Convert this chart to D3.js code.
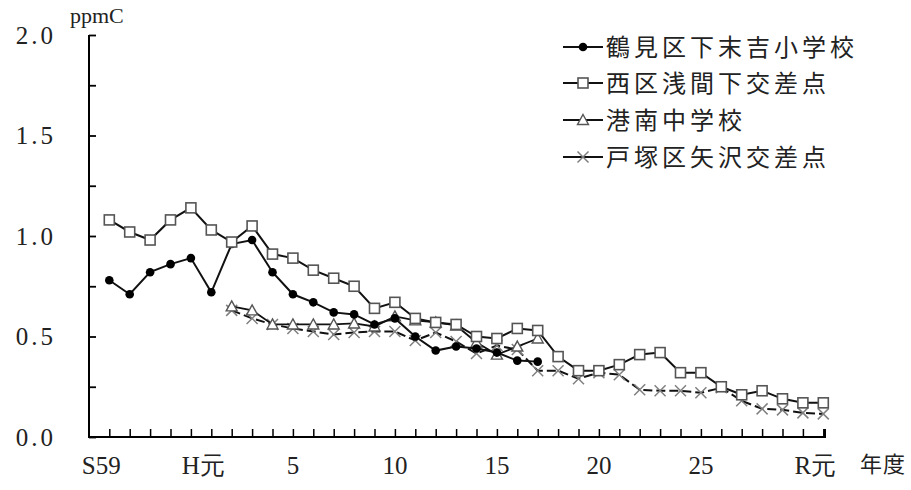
<!DOCTYPE html>
<html><head><meta charset="utf-8">
<script src="https://cdn.jsdelivr.net/npm/d3@7"></script>
<style>
html,body{margin:0;padding:0;background:#fff;}
svg{display:block;}
.lab{font-family:"Liberation Serif","DejaVu Serif",serif;fill:#222;}
.cjk{font-family:"Noto Sans CJK JP","Noto Sans CJK SC",sans-serif;fill:#222;}
</style></head>
<body>
<svg id="chart" width="911" height="490"></svg>
<script>
// ---- data ----
const seriesNames = ["鶴見区下末吉小学校","西区浅間下交差点","港南中学校","戸塚区矢沢交差点"];
const tsurumiStart = 1984;
const tsurumi = [0.78,0.71,0.82,0.86,0.89,0.72,0.96,0.98,0.82,0.71,0.67,0.62,0.61,0.56,0.59,0.50,0.43,0.45,0.44,0.42,0.38,0.375];
const nishiStart = 1984;
const nishi = [1.08,1.02,0.98,1.08,1.14,1.03,0.97,1.05,0.91,0.89,0.83,0.79,0.75,0.64,0.67,0.59,0.57,0.56,0.50,0.49,0.54,0.53,0.40,0.33,0.33,0.36,0.41,0.42,0.32,0.32,0.25,0.21,0.23,0.19,0.17,0.17];
const konanStart = 1990;
const konan = [0.65,0.63,0.56,0.56,0.56,0.56,0.565,0.55,0.60,0.58,0.57,0.555,0.47,0.41,0.45,0.49];
const totsukaStart = 1990;
const totsuka = [0.63,0.59,0.56,0.54,0.525,0.51,0.52,0.525,0.525,0.48,0.52,0.475,0.415,0.455,0.435,0.33,0.33,0.29,0.32,0.31,0.235,0.23,0.23,0.22,0.245,0.18,0.14,0.135,0.12,0.115];
const firstYear = 1984, lastYear = 2019;
const xLabelYears = [1984,1989,1993,1998,2003,2008,2013,2019];
const xLabelTexts = ["S59","H元","5","10","15","20","25","R元"];
const yTicks = [0,0.25,0.5,0.75,1.0,1.25,1.5,1.75,2.0];
const yLabelTicks = [0,0.5,1.0,1.5,2.0];
const yUnit = "ppmC";
const xUnit = "年度";

// ---- layout ----
const svg = d3.select("#chart");
const axisX0 = 89, axisX1 = 825, axisY0 = 437, axisTop = 35;
const x = d3.scaleLinear().domain([firstYear,lastYear]).range([109.3,823.3]);
const y = d3.scaleLinear().domain([0,2]).range([axisY0,axisTop]);

const toPts = (start, arr) => arr.map((v,i)=>({year:start+i, v}));
const series = [
  {name:seriesNames[3], pts:toPts(totsukaStart,totsuka), marker:"x", dash:"9,4", width:2},
  {name:seriesNames[2], pts:toPts(konanStart,konan), marker:"tri", dash:null, width:1.8},
  {name:seriesNames[0], pts:toPts(tsurumiStart,tsurumi), marker:"circle", dash:null, width:2},
  {name:seriesNames[1], pts:toPts(nishiStart,nishi), marker:"square", dash:null, width:2}
];

function drawMarker(g, type){
  if(type==="circle"){
    g.append("circle").attr("r",4.3).attr("fill","#000");
  } else if(type==="square"){
    g.append("rect").attr("x",-5).attr("y",-5).attr("width",10).attr("height",10)
      .attr("fill","#fff").attr("stroke","#555").attr("stroke-width",1.6);
  } else if(type==="tri"){
    g.append("path").attr("d","M0,-5.5L5.5,4.5L-5.5,4.5Z")
      .attr("fill","#fff").attr("stroke","#555").attr("stroke-width",1.4);
  } else if(type==="x"){
    g.append("path").attr("d","M-5.5,-5.5L5.5,5.5M-5.5,5.5L5.5,-5.5")
      .attr("fill","none").attr("stroke","#808080").attr("stroke-width",1.5);
  }
}

// axes
const yAxis = d3.axisRight(y).tickValues(yTicks).tickSize(7).tickFormat("");
const yG = svg.append("g").attr("transform",`translate(${axisX0},0)`).call(yAxis);
yG.select(".domain").remove();
yG.selectAll(".tick line").attr("stroke","#000").attr("stroke-width",1.8);

const xAxis = d3.axisTop(x).tickValues(d3.range(firstYear,lastYear+1)).tickSize(8).tickFormat("");
const xG = svg.append("g").attr("transform",`translate(0,${axisY0})`).call(xAxis);
xG.select(".domain").remove();
xG.selectAll(".tick line").attr("stroke","#000").attr("stroke-width",1.5);

svg.append("path").attr("d",`M${axisX0},${axisTop}V${axisY0}H${axisX1}V${axisY0-8}`)
  .attr("fill","none").attr("stroke","#000").attr("stroke-width",2);

// y labels
svg.selectAll(".ylab").data(yLabelTicks).enter().append("text")
  .attr("class","lab ylab").attr("x",56).attr("y",d=>y(d)+8.5)
  .attr("text-anchor","end").attr("font-size",25).attr("letter-spacing",3)
  .text(d=>d3.format(".1f")(d));

// x labels
svg.selectAll(".xlab").data(xLabelYears).enter().append("text")
  .attr("class","lab xlab")
  .attr("x",(d,i)=>x(d) + (/^\d+$/.test(xLabelTexts[i]) ? 0 : -8))
  .attr("y",474).attr("text-anchor","middle").attr("font-size",25)
  .text((d,i)=>xLabelTexts[i]);

svg.append("text").attr("class","lab").attr("x",70).attr("y",23).attr("font-size",22).text(yUnit);
svg.append("text").attr("class","cjk").attr("x",860).attr("y",472).attr("font-size",22).attr("letter-spacing",1).text(xUnit);

// lines
const line = d3.line().x(d=>x(d.year)).y(d=>y(d.v));
series.forEach(s=>{
  svg.append("path").datum(s.pts).attr("d",line).attr("fill","none")
    .attr("stroke","#111").attr("stroke-width",s.width)
    .attr("stroke-dasharray",s.dash);
  svg.append("g").selectAll("g").data(s.pts).enter().append("g")
    .attr("transform",d=>`translate(${x(d.year)},${y(d.v)})`)
    .each(function(){drawMarker(d3.select(this), s.marker);});
});

// legend
const legY = [47,83,120,157];
seriesNames.forEach((nm,i)=>{
  const s = series.find(t=>t.name===nm);
  const g = svg.append("g").attr("transform",`translate(0,${legY[i]})`);
  g.append("line").attr("x1",563).attr("x2",603).attr("y1",0).attr("y2",0)
    .attr("stroke","#111").attr("stroke-width",2);
  const m = g.append("g").attr("transform","translate(583,0)");
  drawMarker(m, s.marker);
  g.append("text").attr("class","cjk").attr("x",606).attr("y",9)
    .attr("font-size",24).attr("letter-spacing",4).text(nm);
});
</script>
</body></html>
